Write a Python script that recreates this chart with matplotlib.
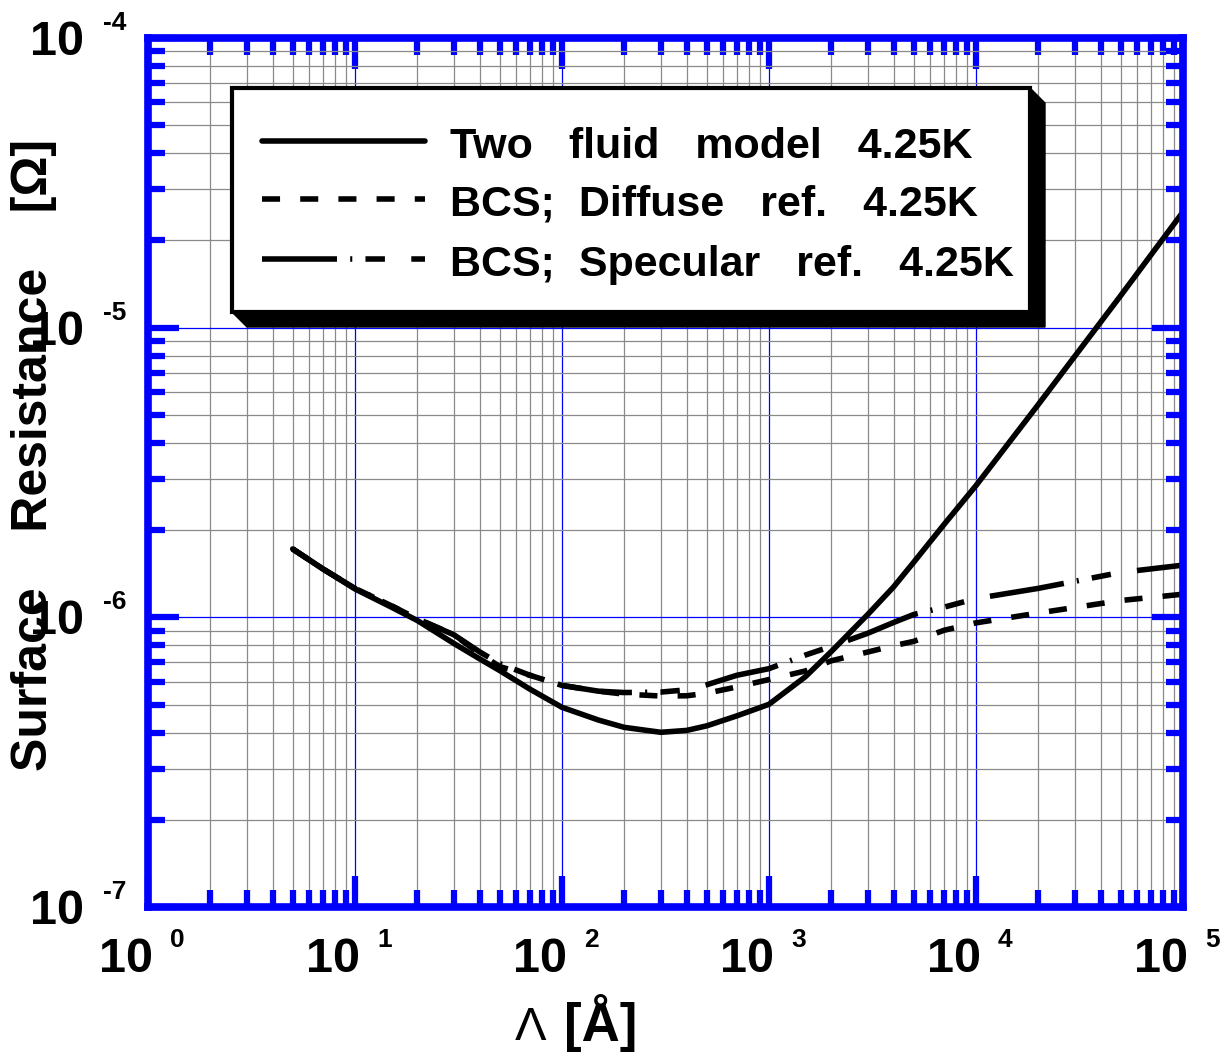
import numpy as np
import matplotlib
matplotlib.use("Agg")
import matplotlib.pyplot as plt
from matplotlib.ticker import LogLocator, NullFormatter
from matplotlib.patches import Polygon, Rectangle
from matplotlib.lines import Line2D

plt.rcParams["font.family"] = ["Liberation Sans", "DejaVu Sans"]
plt.rcParams["lines.scale_dashes"] = False

# Mean free path Lambda [Angstrom]
mean_free_path = [5, 7, 10, 15, 20, 30, 40, 50, 70, 100, 150, 200, 300, 400, 500, 700,
                  1000, 1500, 2000, 3000, 4000, 5000, 7000, 1e4, 2e4, 5e4, 1e5]

# Surface resistance [Ohm] at 4.25 K
rs_two_fluid = [1.722e-6, 1.469e-6, 1.253e-6, 1.084e-6, 9.75e-7, 8.13e-7, 7.19e-7,
                6.55e-7, 5.65e-7, 4.89e-7, 4.42e-7, 4.17e-7, 4.01e-7, 4.07e-7,
                4.22e-7, 4.57e-7, 5.01e-7, 6.24e-7, 7.62e-7, 1.023e-6, 1.274e-6,
                1.549e-6, 2.09e-6, 2.85e-6, 5.43e-6, 1.29e-5, 2.51e-5]
rs_bcs_diffuse = [1.722e-6, 1.469e-6, 1.259e-6, 1.096e-6, 9.89e-7, 8.71e-7, 7.50e-7,
                  6.76e-7, 6.31e-7, 5.82e-7, 5.56e-7, 5.43e-7, 5.35e-7, 5.36e-7,
                  5.47e-7, 5.75e-7, 6.10e-7, 6.53e-7, 7.08e-7, 7.59e-7, 7.98e-7,
                  8.26e-7, 9.02e-7, 9.57e-7, 1.035e-6, 1.143e-6, 1.202e-6]
rs_bcs_specular = [1.722e-6, 1.469e-6, 1.259e-6, 1.096e-6, 9.89e-7, 8.71e-7, 7.60e-7,
                   6.92e-7, 6.31e-7, 5.82e-7, 5.56e-7, 5.50e-7, 5.52e-7, 5.62e-7,
                   5.85e-7, 6.31e-7, 6.65e-7, 7.41e-7, 7.94e-7, 8.81e-7, 9.60e-7,
                   1.023e-6, 1.084e-6, 1.161e-6, 1.259e-6, 1.429e-6, 1.514e-6]

series_labels = ["Two   fluid   model   4.25K",
                 "BCS;  Diffuse   ref.   4.25K",
                 "BCS;  Specular   ref.   4.25K"]

x_decades = [0, 1, 2, 3, 4, 5]
y_decades = [-7, -6, -5, -4]
x_label_symbol = "\u039b"
x_label_unit = "[\u00c5]"
y_label = "Surface    Resistance    [\u03a9]"

BLUE = "#0000ff"
W, H = 1231, 1053
AX_L, AX_T, AX_W, AX_H = 148, 38, 1035, 869

fig = plt.figure(figsize=(W / 100, H / 100), dpi=100)
ax = fig.add_axes([AX_L / W, (H - AX_T - AX_H) / H, AX_W / W, AX_H / H])
ax.set_xscale("log")
ax.set_yscale("log")
ax.set_xlim(10.0 ** x_decades[0], 10.0 ** x_decades[-1])
ax.set_ylim(10.0 ** y_decades[0], 10.0 ** y_decades[-1])

for axis in (ax.xaxis, ax.yaxis):
    axis.set_major_locator(LogLocator(base=10, numticks=20))
    axis.set_minor_locator(LogLocator(base=10, subs=np.arange(2, 10), numticks=20))
    axis.set_major_formatter(NullFormatter())
    axis.set_minor_formatter(NullFormatter())

ax.set_axisbelow(True)
ax.grid(which="minor", color="#8a8a8a", linewidth=0.9)
ax.grid(which="major", color=BLUE, linewidth=0.9)

for sp in ax.spines.values():
    sp.set_color(BLUE)
    sp.set_linewidth(5.5)
ax.tick_params(which="both", direction="in", top=True, right=True,
               color=BLUE, width=4.5)
ax.tick_params(which="major", length=22)
ax.tick_params(which="minor", length=12)

styles = [dict(color="black", lw=4.0, linestyle="-", solid_capstyle="round"),
          dict(color="black", lw=4.0, linestyle=(0, (13, 14.5))),
          dict(color="black", lw=4.0, linestyle=(0, (54, 9.5, 1.5, 9.5, 14, 19)))]
for ys, st in zip([rs_two_fluid, rs_bcs_diffuse, rs_bcs_specular], styles):
    ax.plot(mean_free_path, ys, **st)

# Decade tick labels: "10" with a raised exponent
big = dict(fontsize=35, fontweight="bold", color="black")
small = dict(fontsize=19, fontweight="bold", color="black")
for e in x_decades:
    ax.annotate("10", xy=(10.0 ** e, 0), xycoords=("data", "axes fraction"),
                xytext=(5, -65), textcoords="offset pixels",
                ha="right", va="baseline", annotation_clip=False, **big)
    ax.annotate(str(e), xy=(10.0 ** e, 0), xycoords=("data", "axes fraction"),
                xytext=(22, -40), textcoords="offset pixels",
                ha="left", va="baseline", annotation_clip=False, **small)
for e in y_decades:
    ax.annotate("10", xy=(0, 10.0 ** e), xycoords=("axes fraction", "data"),
                xytext=(-64, -17), textcoords="offset pixels",
                ha="right", va="baseline", annotation_clip=False, **big)
    ax.annotate("-" + str(abs(e)), xy=(0, 10.0 ** e), xycoords=("axes fraction", "data"),
                xytext=(-45, 8), textcoords="offset pixels",
                ha="left", va="baseline", annotation_clip=False, **small)

# Axis titles
fig.text(531 / W, 1 - 1040 / H, x_label_symbol, fontsize=34, ha="center",
         va="baseline")
fig.text(564 / W, 1 - 1041 / H, x_label_unit, fontsize=38, fontweight="bold",
         ha="left", va="baseline")
fig.text(34 / W, 1 - 455 / H, y_label, fontsize=36, fontweight="bold",
         rotation=90, ha="center", va="center")


# Legend box with an extruded black frame (positions in pixels from top-left)
def px(x, y):
    return ((x - AX_L) / AX_W, 1 - (y - AX_T) / AX_H)


box_l, box_t, box_r, box_b, depth = 232, 88, 1030, 312, 15
x0, y0 = px(box_l, box_b)
x1, y1 = px(box_r, box_t)
ax.add_patch(Rectangle((x0, y0), x1 - x0, y1 - y0, transform=ax.transAxes,
                       facecolor="white", edgecolor="black", linewidth=3,
                       zorder=6, clip_on=False))
dx = depth / AX_W
dy = depth / AX_H
ax.add_patch(Polygon([(x0, y0), (x0 + dx, y0 - dy), (x1 + dx, y0 - dy),
                      (x1 + dx, y1 - dy), (x1, y1), (x1, y0)], closed=True,
                     transform=ax.transAxes, facecolor="black", edgecolor="black",
                     linewidth=1, zorder=6, clip_on=False))

row_y = [141, 199, 259]
for label, st, ry in zip(series_labels, styles, row_y):
    lx0, ly = px(262, ry)
    lx1, _ = px(425, ry)
    ax.add_line(Line2D([lx0, lx1], [ly, ly], transform=ax.transAxes, zorder=7,
                       clip_on=False, **st))
    tx, ty = px(450, ry + 17)
    ax.text(tx, ty, label, transform=ax.transAxes, fontsize=31, fontweight="bold",
            ha="left", va="baseline", zorder=7)

fig.savefig("out.png", dpi=100)
